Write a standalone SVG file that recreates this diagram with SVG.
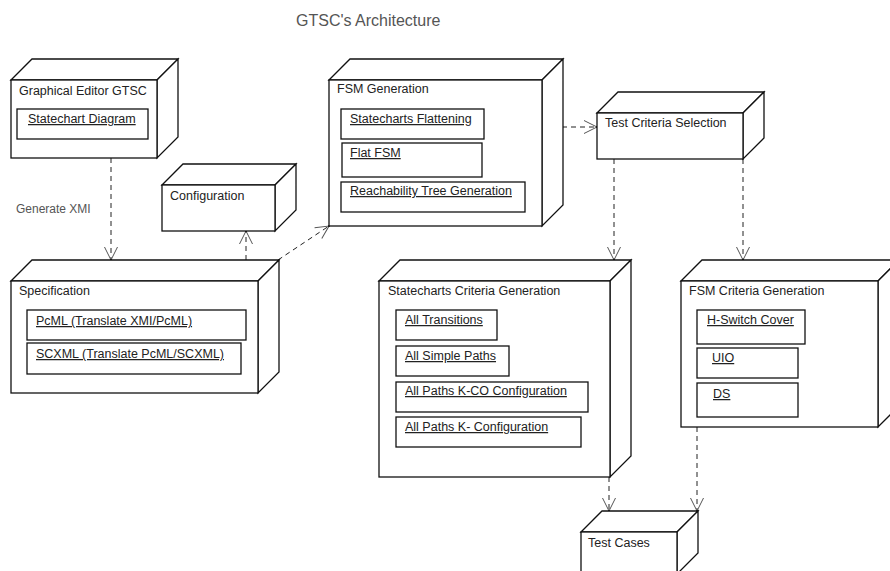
<svg xmlns="http://www.w3.org/2000/svg" width="890" height="571" viewBox="0 0 890 571">
<style>
.f{fill:#fff;stroke:#111;stroke-width:1.3}
.in{fill:#fff;stroke:#111;stroke-width:1.3}
.t{font-family:"Liberation Sans",Arial,sans-serif;font-size:12.5px;fill:#222}
.u{font-family:"Liberation Sans",Arial,sans-serif;font-size:12.5px;fill:#222;text-decoration:underline}
.c{fill:none;stroke:#222;stroke-width:1;stroke-dasharray:5,4}
</style>
<defs>
<marker id="ah" markerUnits="userSpaceOnUse" markerWidth="16" markerHeight="16" viewBox="-14 -8 16 16" refX="0" refY="0" orient="auto">
<path d="M-13,-6.5 L0,0 L-13,6.5" fill="none" stroke="#555" stroke-width="1"/>
<circle cx="0" cy="0" r="1" fill="#111"/>
</marker>
</defs>
<rect width="890" height="571" fill="#fff"/>
<text x="296" y="26" font-family="Liberation Sans,Arial,sans-serif" font-size="16" fill="#555">GTSC's Architecture</text>
<text x="16" y="213" font-family="Liberation Sans,Arial,sans-serif" font-size="12" fill="#555">Generate XMI</text>

<g id="connectors">
<path class="c" d="M111,158 L111,260" marker-end="url(#ah)"/>
<path class="c" d="M246,260 L246,231" marker-end="url(#ah)"/>
<path class="c" d="M278,260 L329,226" marker-end="url(#ah)"/>
<path class="c" d="M562,127 L597,127" marker-end="url(#ah)"/>
<path class="c" d="M614,159 L614,260" marker-end="url(#ah)"/>
<path class="c" d="M743,159 L743,260" marker-end="url(#ah)"/>
<path class="c" d="M609,477 L609,511" marker-end="url(#ah)"/>
<path class="c" d="M697,427 L697,511" marker-end="url(#ah)"/>
</g>

<g id="graphical-editor">
<path class="f" d="M11,80 L32,59 L178,59 L157,80 Z"/>
<path class="f" d="M157,80 L178,59 L178,137 L157,158 Z"/>
<rect class="f" x="11" y="80" width="146" height="78"/>
<text class="t" x="19" y="95">Graphical Editor GTSC</text>
<rect class="in" x="17" y="109" width="131" height="30"/>
<text class="u" x="28" y="123">Statechart Diagram</text>
</g>

<g id="configuration">
<path class="f" d="M162,185 L183,164 L296,164 L275,185 Z"/>
<path class="f" d="M275,185 L296,164 L296,210 L275,231 Z"/>
<rect class="f" x="162" y="185" width="113" height="46"/>
<text class="t" x="170" y="200">Configuration</text>
</g>

<g id="specification">
<path class="f" d="M11,281 L32,260 L279,260 L258,281 Z"/>
<path class="f" d="M258,281 L279,260 L279,372 L258,393 Z"/>
<rect class="f" x="11" y="281" width="247" height="112"/>
<text class="t" x="19" y="295">Specification</text>
<rect class="in" x="27" y="310" width="219" height="30"/>
<text class="u" x="36" y="325">PcML (Translate XMI/PcML)</text>
<rect class="in" x="27" y="343" width="214" height="31"/>
<text class="u" x="36" y="358">SCXML (Translate PcML/SCXML)</text>
</g>

<g id="fsm-generation">
<path class="f" d="M329,80 L350,59 L563,59 L542,80 Z"/>
<path class="f" d="M542,80 L563,59 L563,205 L542,226 Z"/>
<rect class="f" x="329" y="80" width="213" height="146"/>
<text class="t" x="337" y="93">FSM Generation</text>
<rect class="in" x="341" y="109" width="143" height="30"/>
<text class="u" x="350" y="123">Statecharts Flattening</text>
<rect class="in" x="342" y="143" width="140" height="34"/>
<text class="u" x="350" y="157">Flat FSM</text>
<rect class="in" x="341" y="182" width="184" height="30"/>
<text class="u" x="350" y="195">Reachability Tree Generation</text>
</g>

<g id="test-criteria-selection">
<path class="f" d="M597,113 L618,92 L764,92 L743,113 Z"/>
<path class="f" d="M743,113 L764,92 L764,138 L743,159 Z"/>
<rect class="f" x="597" y="113" width="146" height="46"/>
<text class="t" x="605" y="127">Test Criteria Selection</text>
</g>

<g id="statecharts-criteria-generation">
<path class="f" d="M379,281 L400,260 L631,260 L610,281 Z"/>
<path class="f" d="M610,281 L631,260 L631,456 L610,477 Z"/>
<rect class="f" x="379" y="281" width="231" height="196"/>
<text class="t" x="388" y="295">Statecharts Criteria Generation</text>
<rect class="in" x="396" y="310" width="101" height="30"/>
<text class="u" x="405" y="324">All Transitions</text>
<rect class="in" x="396" y="346" width="113" height="30"/>
<text class="u" x="405" y="360">All Simple Paths</text>
<rect class="in" x="396" y="382" width="192" height="30"/>
<text class="u" x="405" y="395">All Paths K-CO Configuration</text>
<rect class="in" x="396" y="417" width="185" height="30"/>
<text class="u" x="405" y="431">All Paths K- Configuration</text>
</g>

<g id="fsm-criteria-generation">
<path class="f" d="M681,281 L702,260 L899,260 L878,281 Z"/>
<path class="f" d="M878,281 L899,260 L899,406 L878,427 Z"/>
<rect class="f" x="681" y="281" width="197" height="146"/>
<text class="t" x="689" y="295">FSM Criteria Generation</text>
<rect class="in" x="697" y="310" width="108" height="34"/>
<text class="u" x="707" y="324">H-Switch Cover</text>
<rect class="in" x="697" y="348" width="101" height="30"/>
<text class="u" x="712" y="362">UIO</text>
<rect class="in" x="697" y="383" width="101" height="34"/>
<text class="u" x="713" y="398">DS</text>
</g>

<g id="test-cases">
<path class="f" d="M581,532 L602,511 L698,511 L677,532 Z"/>
<path class="f" d="M677,532 L698,511 L698,553 L677,574 Z"/>
<rect class="f" x="581" y="532" width="96" height="50"/>
<text class="t" x="588" y="547">Test Cases</text>
</g>
</svg>
